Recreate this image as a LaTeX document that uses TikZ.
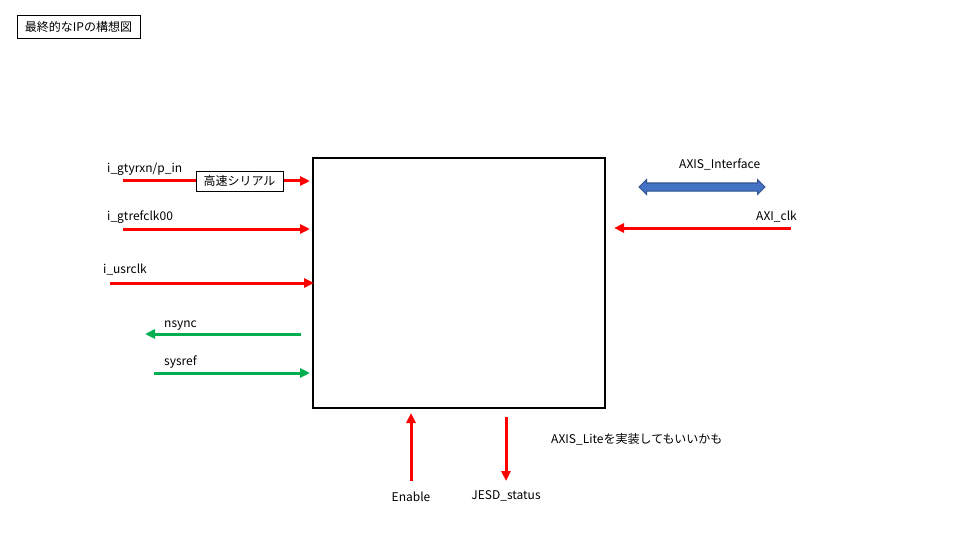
\documentclass[tikz,border=0pt]{standalone}
\usepackage{fontspec}
\setmainfont{Noto Sans CJK JP}
\usepackage{tikz}
\usetikzlibrary{positioning}
\usetikzlibrary{arrows.meta,
                shapes.arrows}

\definecolor{sigred}{RGB}{255,0,0}
\definecolor{siggreen}{RGB}{0,176,80}
\definecolor{axisblue}{RGB}{68,114,196}
\definecolor{axisedge}{RGB}{47,82,143}

\begin{document}
\begin{tikzpicture}[
    x=1pt,y=-1pt,
    font=\fontsize{12}{14}\selectfont,
    lbl/.style={anchor=base west,inner sep=0pt},
    redsig/.style={draw=sigred,line width=3pt,-{Triangle[length=10pt,width=9pt]}},
    greensig/.style={draw=siggreen,line width=3pt,-{Triangle[length=10pt,width=9pt]}},
    tagbox/.style={draw,line width=0.8pt,fill=white,inner sep=2pt,minimum width=87,minimum height=20}
    ]
    \useasboundingbox (0,0) rectangle (960,540);

    % title
    \node[draw,line width=0.8pt,minimum width=123,minimum height=23] (title) at (78.5,26.5) {最終的なIPの構想図};

    % IP block
    \node[draw,line width=2pt,minimum width=292,minimum height=250] (ip) at (459,283) {};

    % left side signals
    \coordinate (rxin) at (123,181);   \coordinate (rxend) at (310,181);
    \coordinate (refin) at (123,229);  \coordinate (refend) at (310,229);
    \coordinate (usrin) at (110,283);  \coordinate (usrend) at (314,283);
    \coordinate (nsyncst) at (301,334); \coordinate (nsyncend) at (145,334);
    \coordinate (sysrefst) at (154,373); \coordinate (sysrefend) at (310,373);

    \node[lbl] (rxlbl) at (107,173) {i\_gtyrxn/p\_in};
    \node[lbl] (reflbl) at (107,220) {i\_gtrefclk00};
    \node[lbl] (usrlbl) at (103,273) {i\_usrclk};
    \node[lbl] (nsynclbl) at (164,327) {nsync};
    \node[lbl] (sysreflbl) at (164,365) {sysref};

    \path (rxin) edge[redsig] (rxend)
    (refin) edge[redsig] (refend)
    (usrin) edge[redsig] (usrend)
    (nsyncst) edge[greensig] (nsyncend)
    (sysrefst) edge[greensig] (sysrefend)
    ;

    \node[tagbox] (serial) at (239.5,181) {高速シリアル};

    % right side
    \node[double arrow,draw=axisedge,line width=1pt,fill=axisblue,inner sep=3.5pt,
          double arrow head extend=3.5pt,minimum height=126] (axis) at (702,187) {};
    \node[lbl] (axislbl) at (679,169) {AXIS\_Interface};

    \coordinate (aclkst) at (791,228); \coordinate (aclkend) at (614,228);
    \node[lbl] (aclklbl) at (756,220) {AXI\_clk};
    \path (aclkst) edge[redsig] (aclkend);

    % bottom side
    \coordinate (enst) at (411,481); \coordinate (enend) at (411,413);
    \coordinate (stst) at (506,417); \coordinate (stend) at (506,481);
    \path (enst) edge[redsig] (enend)
    (stst) edge[redsig] (stend)
    ;
    \node[anchor=base,inner sep=0pt] (enlbl) at (411,501) {Enable};
    \node[anchor=base,inner sep=0pt] (stlbl) at (506,499) {JESD\_status};
    \node[lbl] (note) at (551,443) {AXIS\_Liteを実装してもいいかも};
  \end{tikzpicture}
\end{document}
